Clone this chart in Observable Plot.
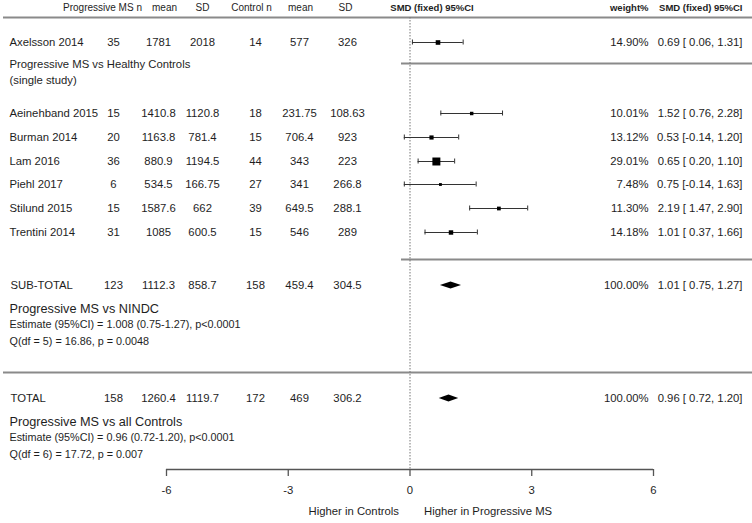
<!DOCTYPE html>
<html><head><meta charset="utf-8">
<script src="https://cdn.jsdelivr.net/npm/d3@7"></script>
<script src="https://cdn.jsdelivr.net/npm/@observablehq/plot@0.6"></script>
<style>
html,body{margin:0;padding:0;background:#fff;}
</style>
</head><body>
<div id="chart"></div>
<script>
// ---- data ----
const studies = ["Axelsson 2014","Aeinehband 2015","Burman 2014","Lam 2016","Piehl 2017","Stilund 2015","Trentini 2014"];
const pmsN    = ["35","15","20","36","6","15","31"];
const pmsMean = ["1781","1410.8","1163.8","880.9","534.5","1587.6","1085"];
const pmsSD   = ["2018","1120.8","781.4","1194.5","166.75","662","600.5"];
const ctlN    = ["14","18","15","44","27","39","15"];
const ctlMean = ["577","231.75","706.4","343","341","649.5","546"];
const ctlSD   = ["326","108.63","923","223","266.8","288.1","289"];
const weight  = [14.90,10.01,13.12,29.01,7.48,11.30,14.18];
const smd     = [0.69,1.52,0.53,0.65,0.75,2.19,1.01];
const lo      = [0.06,0.76,-0.14,0.20,-0.14,1.47,0.37];
const hi      = [1.31,2.28,1.20,1.10,1.63,2.90,1.66];

const sumLabels = ["SUB-TOTAL","TOTAL"];
const sumPmsN    = ["123","158"];
const sumPmsMean = ["1112.3","1260.4"];
const sumPmsSD   = ["858.7","1119.7"];
const sumCtlN    = ["158","172"];
const sumCtlMean = ["459.4","469"];
const sumCtlSD   = ["304.5","306.2"];
const sumWeight  = [100.00,100.00];
const sumSmd     = [1.01,0.96];
const sumLo      = [0.75,0.72];
const sumHi      = [1.27,1.20];

const sumTitles = ["Progressive MS vs NINDC","Progressive MS vs all Controls"];
const sumEstimates = ["Estimate (95%CI) = 1.008 (0.75-1.27), p<0.0001","Estimate (95%CI) = 0.96 (0.72-1.20), p<0.0001"];
const sumQ = ["Q(df = 5) = 16.86, p = 0.0048","Q(df = 6) = 17.72, p = 0.007"];

const headers = ["Progressive MS n","mean","SD","Control n","mean","SD"];
const xTicks = [-6,-3,0,3,6];
const axisLeft = "Higher in Controls";
const axisRight = "Higher in Progressive MS";
const singleNote = ["Progressive MS vs Healthy Controls","(single study)"];

// ---- layout (pixel rows / columns) ----
const studyY = [42,113,137,161,184,208,232];
const sumY = [285,398];
const cols = [113,158,202,255,299,347];
const headerCols = [102,164,202,251,300,345];

const fmt = v => (v < 0 ? v.toFixed(2) : "\u00a0" + v.toFixed(2));
const ciText = (e,l,h) => `${e.toFixed(2)} [${fmt(l)}, ${h.toFixed(2)}]`;

const rows = studies.map((s,i) => ({
  name: s, y: studyY[i],
  cells: [pmsN[i],pmsMean[i],pmsSD[i],ctlN[i],ctlMean[i],ctlSD[i]],
  w: weight[i], smd: smd[i], lo: lo[i], hi: hi[i]
}));
const sums = sumLabels.map((s,i) => ({
  name: s, y: sumY[i],
  cells: [sumPmsN[i],sumPmsMean[i],sumPmsSD[i],sumCtlN[i],sumCtlMean[i],sumCtlSD[i]],
  w: sumWeight[i], smd: sumSmd[i], lo: sumLo[i], hi: sumHi[i]
}));
const allRows = rows.concat(sums);
const cellData = allRows.flatMap(r => r.cells.map((c,j) => ({y: r.y, text: c, col: j})));

const diamond = sums.flatMap((r,i) => [
  {id:i, y: r.y - 3.5, x1: r.smd, x2: r.smd},
  {id:i, y: r.y, x1: r.lo, x2: r.hi},
  {id:i, y: r.y + 3.5, x1: r.smd, x2: r.smd}
]);

const font = "'Liberation Sans', Arial, sans-serif";
const txt = "#1e1e1e";

const colMarks = cols.map((cx,j) => Plot.text(cellData.filter(d => d.col === j), {
  frameAnchor: "left", dx: cx, y: "y", text: "text", textAnchor: "middle", fontSize: 11.3, fill: txt
}));
const headMarks = headers.map((h,j) => Plot.text([h], {
  frameAnchor: "left", dx: headerCols[j], y: () => 7, text: d => d, textAnchor: "middle", fontSize: 10, fill: txt
}));

const chart = Plot.plot({
  width: 752, height: 523, margin: 0,
  x: {domain: [-6, 6], range: [166, 653], axis: null},
  y: {domain: [0, 523], range: [0, 523], axis: null},
  r: {type: "linear", domain: [0, 29.01], range: [0.6, 4.5]},
  style: {fontFamily: font, background: "#fff", color: txt},
  marks: [
    // separators
    Plot.ruleY([17, 372], {insetLeft: 3, stroke: "#8a8a8a", strokeWidth: 2}),
    Plot.ruleY([63, 259], {insetLeft: 401, stroke: "#8a8a8a", strokeWidth: 2}),
    // null line
    Plot.ruleX([0], {y1: 17, y2: 469, stroke: "#777", strokeDasharray: "1.5,1.5"}),
    // axis
    Plot.ruleY([469], {x1: xTicks[0], x2: xTicks[xTicks.length-1], stroke: "#555", strokeWidth: 1.3}),
    Plot.ruleX(xTicks, {x: d => d, y1: 469, y2: 476, stroke: "#555", strokeWidth: 1.3}),
    Plot.text(xTicks, {x: d => d, y: () => 490, text: d => String(d), fontSize: 11.3, fill: txt}),
    Plot.text([axisLeft], {x: () => 0, y: () => 511, dx: -11, text: d => d, textAnchor: "end", fontSize: 11.3, fill: txt}),
    Plot.text([axisRight], {x: () => 0, y: () => 511, dx: 14, text: d => d, textAnchor: "start", fontSize: 11.3, fill: txt}),
    // CIs
    Plot.ruleY(rows, {y: "y", x1: "lo", x2: "hi", stroke: "#333", strokeWidth: 1.1}),
    Plot.ruleX(rows, {x: "lo", y1: d => d.y - 2.5, y2: d => d.y + 2.5, stroke: "#333", strokeWidth: 1}),
    Plot.ruleX(rows, {x: "hi", y1: d => d.y - 2.5, y2: d => d.y + 2.5, stroke: "#333", strokeWidth: 1}),
    Plot.dot(rows, {x: "smd", y: "y", r: "w", symbol: "square", fill: "#000", stroke: "none"}),
    Plot.areaX(diamond, {x1: "x1", x2: "x2", y: "y", z: "id", fill: "#000"}),
    // headers
    ...headMarks,
    Plot.text(["SMD (fixed) 95%CI"], {x: () => 0, y: () => 7, dx: 22, text: d => d, fontSize: 9.5, fontWeight: "bold", fill: txt}),
    Plot.text(["weight%"], {frameAnchor: "left", dx: 648, y: () => 7, text: d => d, textAnchor: "end", fontSize: 9.5, fontWeight: "bold", fill: txt}),
    Plot.text(["SMD (fixed) 95%CI"], {frameAnchor: "left", dx: 742, y: () => 7, text: d => d, textAnchor: "end", fontSize: 9.5, fontWeight: "bold", fill: txt}),
    // left labels
    Plot.text(rows, {frameAnchor: "left", dx: 9, y: "y", text: "name", textAnchor: "start", fontSize: 11.3, fill: txt}),
    Plot.text(sums, {frameAnchor: "left", dx: 10, y: "y", text: "name", textAnchor: "start", fontSize: 11.3, fill: txt}),
    ...colMarks,
    Plot.text(singleNote, {frameAnchor: "left", dx: 9, y: (d,i) => [64, 80][i], text: d => d, textAnchor: "start", fontSize: 11.3, fill: txt}),
    Plot.text(sums, {frameAnchor: "left", dx: 9, y: (d,i) => d.y + 23, text: (d,i) => sumTitles[i], textAnchor: "start", fontSize: 12.7, fill: txt}),
    Plot.text(sums, {frameAnchor: "left", dx: 9, y: (d,i) => d.y + 39.5, text: (d,i) => sumEstimates[i], textAnchor: "start", fontSize: 10.8, fill: txt}),
    Plot.text(sums, {frameAnchor: "left", dx: 9, y: (d,i) => d.y + 56, text: (d,i) => sumQ[i], textAnchor: "start", fontSize: 10.8, fill: txt}),
    // right columns
    Plot.text(allRows, {frameAnchor: "left", dx: 648, y: "y", text: d => d.w.toFixed(2) + "%", textAnchor: "end", fontSize: 11.3, fill: txt}),
    Plot.text(allRows, {frameAnchor: "left", dx: 742, y: "y", text: d => ciText(d.smd, d.lo, d.hi), textAnchor: "end", fontSize: 11.3, fill: txt})
  ]
});
document.getElementById("chart").appendChild(chart);
</script>
</body></html>
